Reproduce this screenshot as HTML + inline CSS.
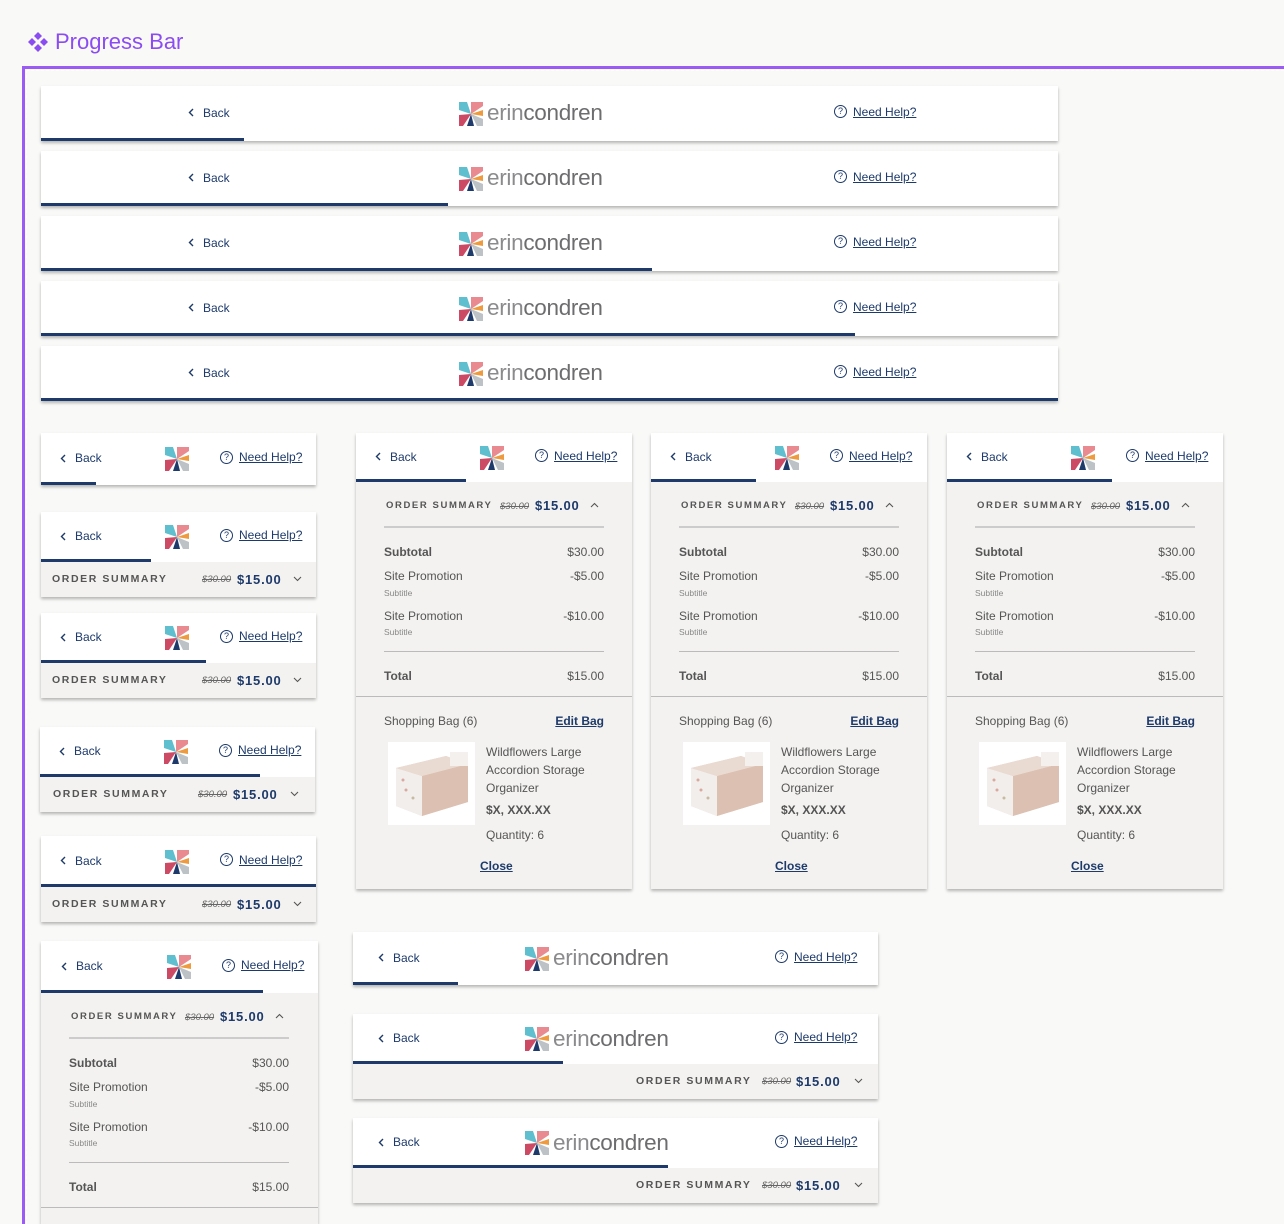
<!DOCTYPE html>
<html><head><meta charset="utf-8">
<style>
*{box-sizing:border-box;margin:0;padding:0}
html{width:1284px;height:1224px;overflow:hidden}
body{width:1284px;height:1224px;background:#f9f9f8;font-family:"Liberation Sans",sans-serif;position:relative;overflow:hidden}
.abs{position:absolute}
#title{left:28px;top:29px;color:#8b4cf2;font-size:22px;display:flex;align-items:center;gap:7px}
#frame{left:22px;top:66px;width:1262px;height:1158px;border:3px solid #9b5cf6;border-bottom:none;border-right:none}
#frame:after{content:"";position:absolute;left:1px;top:1px;right:0;bottom:0;border-top:1px dashed #fff;border-left:1px dashed #fff}
.card{position:absolute;background:#fff;box-shadow:0 2px 3px rgba(0,0,0,.28)}
.bar{position:absolute;height:3px;background:#1d3a6b;left:0}
.back{position:absolute;color:#1d3a6b;font-size:12px;display:flex;align-items:center;gap:9px}
.back svg{width:6px;height:9px;display:block}
.help{position:absolute;color:#1d3a6b;font-size:12px;display:flex;align-items:center;gap:6px}
.help span{text-decoration:underline}
.help i{display:inline-block;width:13px;height:13px;border:1.2px solid #1d3a6b;border-radius:50%;font-style:normal;font-size:9px;text-align:center;line-height:11px}
.logo{position:absolute;display:flex;align-items:center;gap:4px}
.logo svg{display:block}
.logo .t{font-size:22.5px;color:#6d6d6f;letter-spacing:-0.3px;line-height:1}
.logo .t b{font-weight:normal;color:#8b8b8d}
.sum{position:absolute;left:0;background:#f3f2f0;height:35px}
.os{position:absolute;font-size:10.5px;font-weight:bold;letter-spacing:1.6px;color:#555}
.strike{position:absolute;font-size:9.5px;font-style:italic;color:#666;text-decoration:line-through}
.price{position:absolute;font-size:13px;font-weight:bold;color:#1d3a6b;letter-spacing:.8px}
.chev{position:absolute;width:9px;height:6px;line-height:0}
.chev svg{display:block}
.panel{position:absolute;left:0;background:#f3f2f0}
.tx{position:absolute;font-size:12px;color:#555;white-space:nowrap}
.sub{position:absolute;font-size:8.5px;color:#888}
.hr{position:absolute;height:1px;background:#bbb}
.lnk{position:absolute;font-size:12px;font-weight:bold;color:#1d3a6b;text-decoration:underline}
</style></head><body>
<div id="title" class="abs">
<svg width="20" height="20" viewBox="0 0 20 20"><g fill="#8b4cf2"><path d="M10 0l4 4-4 4-4-4z"/><path d="M10 12l4 4-4 4-4-4z"/><path d="M0 10l4-4 4 4-4 4z"/><path d="M12 10l4-4 4 4-4 4z"/></g></svg>
<span>Progress Bar</span></div>
<div id="frame" class="abs"></div>
<div id="root"></div>
<script>
var root=document.getElementById('root');
var ICON='<svg viewBox="0 0 24 24" width="24" height="24"><polygon points="0,0 8,0 12,12 0,8" fill="#5fbfcf"/><polygon points="12,0 24,0 24,4 12,12" fill="#e88a8f"/><polygon points="24,8 24,14 12,12" fill="#ee9a3e"/><polygon points="12,12 24,17 24,24 18,24" fill="#bcc2c6"/><polygon points="12,12 15,24 8,24" fill="#1d3a6b"/><polygon points="0,13 12,12 4,24 0,24" fill="#cc4a63"/></svg>';
var CHEVL='<svg viewBox="0 0 6 9"><path d="M5 1L1.5 4.5 5 8" stroke="#1d3a6b" stroke-width="1.4" fill="none"/></svg>';
function chevSvg(up){return '<svg viewBox="0 0 9 6" width="9" height="6"><path d="'+(up?'M1 5L4.5 1.5 8 5':'M1 1L4.5 4.5 8 1')+'" stroke="#555" stroke-width="1.1" fill="none"/></svg>';}
function el(tag,cls,parent,html){var e=document.createElement(tag);if(cls)e.className=cls;if(html!==undefined)e.innerHTML=html;parent.appendChild(e);return e;}
function pos(e,x,y){e.style.left=x+'px';e.style.top=y+'px';}

function header(x,y,w,h,prog,o){
  var c=el('div','card',root);
  
  
  c.style.left=x+'px';c.style.top=y+'px';c.style.width=w+'px';c.style.height=(o.total||h)+'px';
  var b=el('div','back',c,CHEVL+'<span>Back</span>');
  
  
  pos(b,o.bx,h/2-8);
  var lg=el('div','logo',c,ICON+(o.full?'<span class="t"><b>erin</b>condren</span>':''));
  
  
  pos(lg,o.lx,h/2-12);
  var hp=el('div','help',c,'<i>?</i><span>Need Help?</span>');
  
  
  pos(hp,o.hx,h/2-9);
  var bar=el('div','bar',c);
  
  
  bar.style.top=(h-3)+'px';bar.style.width=prog+'px';
  return c;
}
function summary(c,h,w,s){
  var r=el('div','sum',c);
  
  
  r.style.top=h+'px';r.style.width=w+'px';
  var a=el('div','os',r,'ORDER SUMMARY');
  
  
  pos(a,s[0],11);
  var st=el('div','strike',r,'$30.00');
  
  
  pos(st,s[1],12);
  var p=el('div','price',r,'$15.00');
  
  
  pos(p,s[2],10);
  var ch=el('div','chev',r,chevSvg(false));
  
  
  pos(ch,s[3],14);
}
function txt(p,cls,s,x,y,right,name){
  var t=el('div',cls,p,s);
  
  
  t.style.top=y+'px';
  if(right!==null){t.style.right=right+'px';}else{t.style.left=x+'px';}
  return t;
}
function expanded(c,h,w,bag){
  var p=el('div','panel',c);
  
  
  p.style.top=h+'px';p.style.width=w+'px';p.style.height=(parseInt(c.style.height)-h)+'px';
  var R=w-248;
  txt(p,'os','ORDER SUMMARY',30,18,null,'order-summary-label').style.fontSize='9.5px';
  txt(p,'strike','$30.00',144,19,null,'original-price');
  txt(p,'price','$15.00',179,16,null,'discounted-price');
  var ch=el('div','chev',p,chevSvg(true));
  
  
  pos(ch,234,20);
  var l=el('div','hr',p);
  l.style.left='28px';l.style.width='220px';l.style.top='44px';l.style.height='2px';l.style.background='#ccc';
  txt(p,'tx','Subtotal',28,63,null,'subtotal-label').style.fontWeight='bold';
  txt(p,'tx','$30.00',0,63,R,'subtotal-value');
  txt(p,'tx','Site Promotion',28,87,null,'promotion-label');
  txt(p,'tx','-$5.00',0,87,R,'promotion-value');
  txt(p,'sub','Subtitle',28,106,null,'promotion-subtitle');
  txt(p,'tx','Site Promotion',28,127,null,'promotion-label');
  txt(p,'tx','-$10.00',0,127,R,'promotion-value');
  txt(p,'sub','Subtitle',28,145,null,'promotion-subtitle');
  l=el('div','hr',p);
  l.style.left='28px';l.style.width='220px';l.style.top='169px';
  txt(p,'tx','Total',28,187,null,'total-label').style.fontWeight='bold';
  txt(p,'tx','$15.00',0,187,R,'total-value');
  l=el('div','hr',p);
  l.style.left='0';l.style.width=w+'px';l.style.top='214px';
  if(!bag)return;
  txt(p,'tx','Shopping Bag (6)',28,232,null,'shopping-bag-title');
  var e=txt(p,'lnk','Edit Bag',0,232,R,'edit-bag-link');
  var img=el('div','abs',p,'<svg width="87" height="83" viewBox="0 0 87 83"><rect width="87" height="83" fill="#fff"/><polygon points="8,26 58,14 80,22 80,60 34,74 8,64" fill="#e4cfc3"/><polygon points="8,26 34,34 34,74 8,64" fill="#f2eeec"/><polygon points="34,34 80,22 80,60 34,74" fill="#dcc0b2"/><polygon points="8,26 58,14 80,22 34,34" fill="#eadbd2"/><rect x="62" y="10" width="18" height="14" fill="#f4f0ee"/><circle cx="18" cy="48" r="1.5" fill="#d9a9a0"/><circle cx="25" cy="56" r="1.5" fill="#c9b9a0"/><circle cx="15" cy="38" r="1.5" fill="#d9a9a0"/></svg>');
  
  
  pos(img,32,260);
  txt(p,'tx','Wildflowers Large',130,263,null,'product-name');
  txt(p,'tx','Accordion Storage',130,281,null,'product-name');
  txt(p,'tx','Organizer',130,299,null,'product-name');
  txt(p,'tx','$X, XXX.XX',130,321,null,'product-price').style.fontWeight='bold';
  txt(p,'tx','Quantity: 6',130,346,null,'product-quantity');
  var cl=txt(p,'lnk','Close',124,377,null,'close-link');
}

var wideY=[86,151,216,281,346];
var wideProg=[203,407,611,814,1017];
for(var i=0;i<5;i++){header(41,wideY[i],1017,55,wideProg[i],{bx:147,lx:418,hx:793,full:true});}

var sOpt={bx:19,lx:124,hx:179};
header(41,433,275,52,55,sOpt);
var c;
c=header(41,512,275,50,110,sOpt);c.style.height='85px';summary(c,50,275,[11,161,196,252]);
c=header(41,613,275,50,165,sOpt);c.style.height='85px';summary(c,50,275,[11,161,196,252]);
c=header(40,727,275,50,220,sOpt);c.style.height='85px';summary(c,50,275,[13,158,193,250]);
c=header(41,836,275,51,275,sOpt);c.style.height='86px';summary(c,51,275,[11,161,196,252]);
c=header(41,941,277,52,222,{bx:20,lx:126,hx:181,total:283});expanded(c,52,277,false);

var expX=[356,651,947];
var expProg=[110,105,165];
for(var k=0;k<3;k++){c=header(expX[k],433,276,49,expProg[k],{bx:19,lx:124,hx:179,total:456});expanded(c,49,276,true);}

var mOpt={bx:25,lx:172,hx:422,full:true};
header(353,932,525,53,105,mOpt);
c=header(353,1014,525,50,210,mOpt);c.style.height='85px';summary(c,50,525,[283,409,443,501]);
c=header(353,1118,525,50,315,mOpt);c.style.height='85px';summary(c,50,525,[283,409,443,501]);
</script>
</body></html>
